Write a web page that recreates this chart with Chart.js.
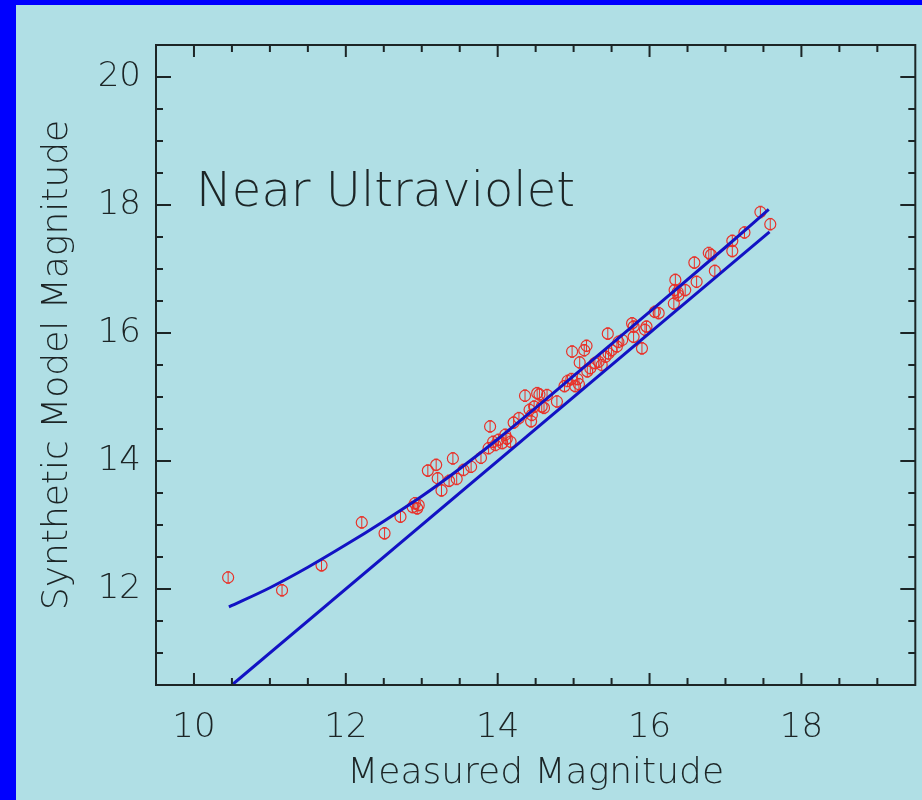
<!DOCTYPE html>
<html>
<head>
<meta charset="utf-8">
<title>Near Ultraviolet</title>
<script src="https://cdn.jsdelivr.net/npm/chart.js@4.4.1/dist/chart.umd.min.js"></script>
<style>
    html, body { margin: 0; padding: 0; }
    body { background: #0000ff; width: 922px; height: 800px; overflow: hidden; }
    #panel { position: absolute; left: 16px; top: 5px; width: 906px; height: 795px; background: #b0dfe5; }
</style>
</head>
<body>
<div id="panel"><canvas id="myChart" width="906" height="795"></canvas></div>
<script>
// observed stars: measured vs synthetic model magnitude
const measured = [
    10.45, 11.16, 11.68, 12.21, 12.51, 12.72, 12.88, 12.91, 12.94, 12.96,
    13.08, 13.19, 13.21, 13.26, 13.36, 13.41, 13.46, 13.55, 13.65, 13.78,
    13.88, 13.90, 13.94, 13.97, 14.01, 14.06, 14.10, 14.12, 14.17, 14.21,
    14.28, 14.36, 14.42, 14.44, 14.45, 14.48, 14.52, 14.55, 14.58, 14.61,
    14.65, 14.78, 14.88, 14.92, 14.97, 14.98, 15.02, 15.05, 15.07, 15.08,
    15.14, 15.17, 15.18, 15.22, 15.28, 15.33, 15.37, 15.42, 15.45, 15.46,
    15.50, 15.57, 15.59, 15.64, 15.77, 15.79, 15.79, 15.90, 15.94, 15.96,
    16.07, 16.12, 16.32, 16.33, 16.34, 16.37, 16.38, 16.47, 16.59, 16.62,
    16.78, 16.81, 16.86, 17.09, 17.09, 17.25, 17.46, 17.59
];
const synthetic = [
    12.18, 11.98, 12.37, 13.04, 12.87, 13.13, 13.28, 13.34, 13.26, 13.31,
    13.85, 13.94, 13.73, 13.54, 13.69, 14.04, 13.72, 13.86, 13.91, 14.05,
    14.20, 14.54, 14.30, 14.25, 14.33, 14.28, 14.41, 14.35, 14.30, 14.60,
    14.67, 15.02, 14.80, 14.62, 14.72, 14.85, 15.06, 15.04, 14.85, 14.83,
    15.03, 14.93, 15.17, 15.25, 15.28, 15.71, 15.17, 15.28, 15.20, 15.54,
    15.73, 15.80, 15.40, 15.45, 15.53, 15.55, 15.50, 15.63, 15.99, 15.68,
    15.73, 15.79, 15.86, 15.89, 16.15, 16.10, 15.94, 15.76, 16.05, 16.10,
    16.33, 16.31, 16.46, 16.67, 16.83, 16.64, 16.59, 16.67, 17.10, 16.80,
    17.25, 17.22, 16.97, 17.44, 17.28, 17.57, 17.89, 17.70
];
const magErr = 0.09;

// model curve and the one-to-one line
const curveX = [10.46, 11.0, 11.5, 12.0, 12.5, 13.0, 13.5, 14.0, 14.5, 15.0, 16.0, 17.0, 17.57];
const curveY = [11.72, 12.02, 12.34, 12.69, 13.06, 13.45, 13.88, 14.34, 14.83, 15.33, 16.33, 17.34, 17.93];
const unityX = [10.5, 17.58];
const unityY = [10.5, 17.58];

const xTicks = [10, 12, 14, 16, 18];
const yTicks = [12, 14, 16, 18, 20];
const xRange = [9.5, 19.5];
const yRange = [10.5, 20.5];
const minorStep = 0.5;

const textFont = "'DejaVu Sans', 'Liberation Sans', sans-serif";
const textWeight = '200';
const ink = '#1c2526';

function pairs(xs, ys) {
    return xs.map((x, i) => ({ x: x, y: ys[i] }));
}

// error bars on each star
const errorBars = {
    id: 'errorBars',
    beforeDatasetsDraw(chart) {
        const ctx = chart.ctx;
        const x = chart.scales.x, y = chart.scales.y;
        ctx.save();
        ctx.strokeStyle = '#e8322a';
        ctx.lineWidth = 1;
        measured.forEach((m, i) => {
            const px = x.getPixelForValue(m);
            const top = y.getPixelForValue(synthetic[i] + magErr);
            const bot = y.getPixelForValue(synthetic[i] - magErr);
            ctx.beginPath();
            ctx.moveTo(px, top); ctx.lineTo(px, bot);
            ctx.moveTo(px - 2, top); ctx.lineTo(px + 2, top);
            ctx.moveTo(px - 2, bot); ctx.lineTo(px + 2, bot);
            ctx.stroke();
        });
        ctx.restore();
    }
};

// box frame with inward ticks on all four sides, plus the band label
const frame = {
    id: 'frame',
    afterDraw(chart) {
        const ctx = chart.ctx;
        const a = chart.chartArea;
        const x = chart.scales.x, y = chart.scales.y;
        ctx.save();
        ctx.strokeStyle = ink;
        ctx.lineWidth = 2;
        ctx.strokeRect(a.left, a.top, a.right - a.left, a.bottom - a.top);
        ctx.beginPath();
        for (let v = xRange[0]; v <= xRange[1] + 1e-9; v += minorStep) {
            const px = x.getPixelForValue(v);
            const len = xTicks.includes(v) ? 12 : 7;
            if (px <= a.left + 1 || px >= a.right - 1) continue;
            ctx.moveTo(px, a.bottom); ctx.lineTo(px, a.bottom - len);
            ctx.moveTo(px, a.top); ctx.lineTo(px, a.top + len);
        }
        for (let v = yRange[0]; v <= yRange[1] + 1e-9; v += minorStep) {
            const py = y.getPixelForValue(v);
            const len = yTicks.includes(v) ? 15 : 7;
            if (py <= a.top + 1 || py >= a.bottom - 1) continue;
            ctx.moveTo(a.left, py); ctx.lineTo(a.left + len, py);
            ctx.moveTo(a.right, py); ctx.lineTo(a.right - len, py);
        }
        ctx.stroke();

        ctx.fillStyle = ink;
        ctx.font = textWeight + ' 48px ' + textFont;
        ctx.textAlign = 'left';
        ctx.textBaseline = 'alphabetic';
        ctx.fillText('Near Ultraviolet', x.getPixelForValue(10) + 2, y.getPixelForValue(18) + 1);
        ctx.restore();
    }
};

const config = {
    type: 'scatter',
    data: {
        datasets: [
            {
                label: 'stars',
                data: pairs(measured, synthetic),
                pointStyle: 'circle',
                pointRadius: 5.5,
                borderColor: '#e8322a',
                backgroundColor: 'rgba(0,0,0,0)',
                borderWidth: 1.2,
                order: 2
            },
            {
                label: 'model',
                data: pairs(curveX, curveY),
                showLine: true,
                pointRadius: 0,
                borderColor: '#1212c4',
                borderWidth: 3,
                cubicInterpolationMode: 'monotone',
                order: 1
            },
            {
                label: 'unity',
                data: pairs(unityX, unityY),
                showLine: true,
                pointRadius: 0,
                borderColor: '#1212c4',
                borderWidth: 3,
                order: 1
            }
        ]
    },
    options: {
        animation: false,
        responsive: false,
        devicePixelRatio: 1,
        layout: { padding: { left: 0, top: 40, right: 5, bottom: 0 } },
        plugins: {
            legend: { display: false },
            tooltip: { enabled: false }
        },
        scales: {
            x: {
                type: 'linear',
                min: xRange[0],
                max: xRange[1],
                afterBuildTicks: s => { s.ticks = xTicks.map(v => ({ value: v })); },
                afterFit: s => { s.height = 115; },
                grid: { display: false, drawTicks: false },
                border: { display: false },
                ticks: {
                    color: ink,
                    padding: 23,
                    maxRotation: 0,
                    font: { family: textFont, size: 34, weight: textWeight }
                },
                title: {
                    display: true,
                    text: 'Measured Magnitude',
                    color: ink,
                    padding: { top: 0, bottom: 5 },
                    font: { family: textFont, size: 36, weight: textWeight }
                }
            },
            y: {
                type: 'linear',
                min: yRange[0],
                max: yRange[1],
                afterBuildTicks: s => { s.ticks = yTicks.map(v => ({ value: v })); },
                afterFit: s => { s.width = 140; },
                grid: { display: false, drawTicks: false },
                border: { display: false },
                ticks: {
                    color: ink,
                    padding: 15,
                    font: { family: textFont, size: 34, weight: textWeight }
                },
                title: {
                    display: true,
                    text: 'Synthetic Model Magnitude',
                    color: ink,
                    padding: { top: 20, bottom: 0 },
                    font: { family: textFont, size: 36, weight: textWeight }
                }
            }
        }
    },
    plugins: [errorBars, frame]
};

const myChart = new Chart(document.getElementById('myChart'), config);
</script>
</body>
</html>
